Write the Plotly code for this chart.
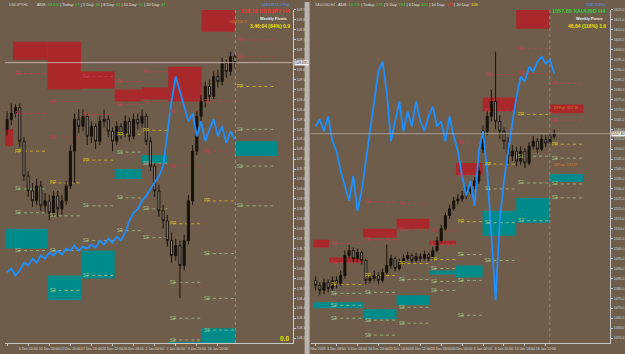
import plotly.graph_objects as go

BG = "#6e5d4b"
FONT = "Liberation Sans"

# ---------------- LEFT PANEL (USDJPY H4) ----------------
L_SYMBOL = "USDJPY,H4"
L_OPEN = [109.30, 109.35, 109.38, 109.41, 109.24, 109.065, 108.99, 108.94, 109.015, 108.915,
          108.94, 108.88, 108.965, 108.90, 108.94, 109.015, 109.19, 109.35, 109.315, 109.365,
          109.265, 109.315, 109.24, 109.34, 109.35, 109.29, 109.24, 109.315, 109.28, 109.34,
          109.265, 109.35, 109.33, 109.365, 109.24, 109.115, 108.99, 108.89, 108.84, 108.74,
          108.665, 108.715, 108.615, 108.74, 108.94, 109.19, 109.365, 109.44, 109.515, 109.465,
          109.565, 109.54, 109.63, 109.59, 109.665]
L_HIGH = [109.39, 109.43, 109.425, 109.43, 109.26, 109.09, 109.03, 109.05, 109.04, 108.98,
          108.97, 108.99, 108.99, 108.97, 109.04, 109.22, 109.38, 109.40, 109.40, 109.38,
          109.34, 109.33, 109.37, 109.40, 109.37, 109.31, 109.34, 109.33, 109.37, 109.36,
          109.38, 109.38, 109.40, 109.38, 109.26, 109.13, 109.02, 108.92, 108.87, 108.78,
          108.75, 108.74, 108.77, 108.97, 109.22, 109.39, 109.47, 109.54, 109.55, 109.59,
          109.60, 109.66, 109.65, 109.69, 109.68]
L_LOW = [109.27, 109.32, 109.36, 109.21, 109.04, 108.96, 108.91, 108.92, 108.89, 108.88,
         108.845, 108.86, 108.86, 108.87, 108.92, 109.00, 109.03, 109.28, 109.29, 109.22,
         109.23, 109.20, 109.22, 109.31, 109.26, 109.19, 109.22, 109.25, 109.26, 109.24,
         109.25, 109.30, 109.31, 109.22, 109.09, 108.96, 108.86, 108.80, 108.71, 108.63,
         108.64, 108.45, 108.59, 108.72, 108.92, 109.17, 109.34, 109.41, 109.44, 109.45,
         109.51, 109.52, 109.56, 109.57, 109.61]
L_CLOSE = [109.35, 109.38, 109.41, 109.24, 109.065, 108.99, 108.94, 109.015, 108.915, 108.94,
           108.88, 108.965, 108.90, 108.94, 109.015, 109.19, 109.35, 109.315, 109.365, 109.265,
           109.315, 109.24, 109.34, 109.35, 109.29, 109.24, 109.315, 109.28, 109.34, 109.265,
           109.35, 109.33, 109.365, 109.24, 109.115, 108.99, 108.89, 108.84, 108.74, 108.665,
           108.715, 108.615, 108.74, 108.94, 109.19, 109.365, 109.44, 109.515, 109.465, 109.565,
           109.54, 109.63, 109.59, 109.665, 109.635]
L_BLUE = [108.58, 108.60, 108.565, 108.59, 108.63, 108.615, 108.65, 108.63, 108.665, 108.65,
          108.68, 108.665, 108.69, 108.67, 108.70, 108.69, 108.715, 108.69, 108.71, 108.70,
          108.72, 108.705, 108.74, 108.72, 108.75, 108.73, 108.76, 108.74, 108.78, 108.84,
          108.88, 108.90, 108.94, 108.965, 109.00, 109.03, 109.065, 109.115, 109.29, 109.44,
          109.565, 109.49, 109.415, 109.34, 109.38, 109.265, 109.34, 109.24, 109.30, 109.35,
          109.265, 109.315, 109.23, 109.29, 109.25]
L_WEEKS = [-0.5, 1.38, 9.58, 17.56, 25.53, 31.86, 38.2, 46.17, 54.14, 64.0]
L_RED_SEG = [0, 1, 2, 3, 4, 5, 6, 7]
L_RED_LO = [109.215, 109.65, 109.50, 109.505, 109.44, 109.45, 109.44, 109.79]
L_RED_HI = [109.30, 109.74, 109.74, 109.59, 109.50, 109.51, 109.615, 109.94]
L_TEAL_SEG = [0, 1, 2, 3, 4, 5, 6, 7, 8]
L_TEAL_LO = [108.70, 108.70, 108.44, 108.55, 109.05, 109.13, 108.205, 108.205, 109.165]
L_TEAL_HI = [108.80, 108.80, 108.565, 108.69, 109.10, 109.17, 108.23, 108.30, 109.24]
LV_NAMES = ["R2", "R1", "PP", "S1", "S2", "S3"]
L_LEVELS = [
    [109.58, 109.38, 109.19, 109.00, 108.88, 108.69],
    [109.44, 109.26, 109.03, 108.865, 108.69, 108.49],
    [109.565, 109.375, 109.145, 108.915, 108.74, 108.565],
    [109.54, 109.425, 109.275, 109.185, 108.955, 108.79],
    [109.59, 109.44, 109.295, 109.13, 108.90, 108.755],
    [109.39, 109.115, 108.825, 108.53, 108.35, 108.24],
    [109.44, 109.19, 108.94, 108.675, 108.45, 108.29],
    [109.75, 109.665, 109.515, 109.30, 109.115, 108.915],
]
L_RANGE = [108.225, 109.90]
L_XRANGE = [-0.5, 67.75]
L_LAST = 109.635
L_TICKVALS = [0, 5, 10, 15, 20, 25, 30, 35, 40, 45, 50]
L_TICKTEXT = ["2 Dec 2019", "5 Dec 04:00", "10 Dec 00:00", "12 Dec 20:00", "17 Dec 16:00",
              "20 Dec 12:00", "26 Dec 08:00", "2 Jan 04:00", "7 Jan 00:00", "9 Jan 20:00",
              "14 Jan 16:00"]

# ---------------- RIGHT PANEL (XAUUSD H4) ----------------
R_SYMBOL = "XAUUSD,H4"
R_OPEN = [1484, 1481.5, 1479, 1483, 1480, 1484, 1482.5, 1486.5, 1496.5, 1499,
          1495, 1498, 1494, 1484, 1485, 1486.5, 1484, 1488, 1491.5, 1495,
          1490, 1493, 1495, 1496.5, 1494, 1496, 1495, 1497, 1495, 1499,
          1504, 1510, 1516.5, 1520, 1524, 1525, 1526.5, 1529, 1531.5, 1534,
          1550, 1559, 1566.5, 1574, 1564, 1559, 1554, 1546.5, 1549, 1544,
          1549, 1543, 1551.5, 1554, 1550, 1555, 1553, 1556.5]
R_HIGH = [1486, 1483, 1485, 1484.5, 1486, 1486, 1489, 1499, 1502, 1500.5,
          1500, 1499, 1495, 1487.5, 1489, 1488, 1490, 1502, 1497, 1496,
          1495, 1497, 1498.5, 1497.5, 1498, 1497.5, 1499, 1498, 1501, 1506,
          1512, 1518, 1522, 1526, 1527.5, 1529, 1531, 1533.5, 1536, 1541,
          1562, 1569.5, 1580, 1599, 1567, 1561, 1556, 1552, 1551, 1551.5,
          1550.5, 1553.5, 1556.5, 1555.5, 1557, 1557, 1558.5, 1560]
R_LOW = [1479, 1476.5, 1477, 1478, 1479, 1480, 1481, 1485, 1495, 1493,
         1493.5, 1492, 1482, 1482.5, 1483.5, 1482, 1483, 1487, 1490, 1488.5,
         1489, 1492, 1494, 1492.5, 1493, 1493.5, 1494, 1493.5, 1494, 1498,
         1503, 1509, 1515, 1519, 1522, 1523.5, 1525, 1527.5, 1530, 1532.5,
         1548, 1557, 1564, 1560, 1555, 1550, 1542.5, 1544, 1541.5, 1542,
         1540.5, 1542, 1550, 1548, 1549, 1551, 1552, 1555]
R_CLOSE = [1481.5, 1479, 1483, 1480, 1484, 1482.5, 1486.5, 1496.5, 1499, 1495,
           1498, 1494, 1484, 1485, 1486.5, 1484, 1488, 1491.5, 1495, 1490,
           1493, 1495, 1496.5, 1494, 1496, 1495, 1497, 1495, 1499, 1504,
           1510, 1516.5, 1520, 1524, 1525, 1526.5, 1529, 1531.5, 1534, 1539,
           1559, 1566.5, 1574, 1564, 1559, 1554, 1546.5, 1549, 1544, 1549,
           1543, 1551.5, 1554, 1550, 1555, 1553, 1556.5, 1557.8]
R_BLUE = [1561.5, 1565, 1559, 1566.5, 1554, 1549, 1539, 1531.5, 1524, 1536.5,
          1519, 1529, 1544, 1559, 1576.5, 1589, 1594, 1579, 1554, 1564,
          1574, 1559, 1569, 1561.5, 1574, 1564, 1559, 1566.5, 1571.5, 1561.5,
          1564, 1554, 1566.5, 1556.5, 1549, 1536.5, 1526.5, 1534, 1521.5, 1549,
          1559, 1539, 1504, 1474, 1514, 1534, 1549, 1564, 1576.5, 1586.5,
          1584, 1591.5, 1589, 1594, 1596.5, 1593, 1595, 1588]
R_WEEKS = [-0.5, 3.28, 11.31, 19.34, 27.14, 33.52, 39.9, 47.93, 55.96, 64.0]
R_RED_SEG = [0, 1, 2, 3, 4, 5, 6, 7, 8]
R_RED_LO = [1500.5, 1493, 1505.5, 1510, 1502, 1537, 1569, 1610.5, 1568]
R_RED_HI = [1504.5, 1495.5, 1510, 1515, 1504, 1543, 1576, 1622.5, 1572.5]
R_TEAL_SEG = [0, 1, 2, 3, 4, 5, 6, 7, 8]
R_TEAL_LO = [1470, 1470, 1464.5, 1471.5, 1487, 1485.5, 1506.5, 1513, 1533.5]
R_TEAL_HI = [1473, 1473, 1469.5, 1476.5, 1489, 1491.5, 1519, 1525.5, 1537.5]
R_LEVELS = [
    [1502.5, 1493, 1482, 1477.5, 1471.5, 1465],
    [1523.5, 1504.5, 1486.5, 1478, 1464, 1456.5],
    [1522.5, 1509.5, 1492.5, 1484.5, 1470.5, 1462.5],
    [1509, 1502, 1494.5, 1490, 1483.5, 1479],
    [1553.5, 1537, 1513.5, 1497, 1484, 1466.5],
    [1587.5, 1569.5, 1542.5, 1530, 1513, 1494],
    [1600.5, 1588, 1567.5, 1546.5, 1533, 1514],
    [1583, 1564.5, 1552.5, 1545.5, 1532.5, 1525.5],
]
R_RANGE = [1452.5, 1620]
R_XRANGE = [-1.21, 70.37]
R_LAST = 1557.8
R_TICKVALS = [0, 5, 10, 15, 20, 25, 30, 35, 40, 45, 50, 55]
R_TICKTEXT = ["28 Nov 2019", "3 Dec 08:00", "6 Dec 04:00", "10 Dec 20:00", "13 Dec 16:00",
              "18 Dec 12:00", "23 Dec 08:00", "30 Dec 04:00", "6 Jan 00:00", "8 Jan 20:00",
              "13 Jan 16:00", "16 Jan 12:00"]

# ---------------- styling ----------------
RED_ZONE = "#a8282c"
TEAL_ZONE = "#008b8b"
LV_COLORS = {"R": "#c2404e", "P": "#d4c21e", "S": "#a6c48a"}
AX_TXT = "#d6d6d6"

fig = go.Figure()
panels = [
    dict(xa="x", ya="y", o=L_OPEN, h=L_HIGH, l=L_LOW, c=L_CLOSE, blue=L_BLUE, weeks=L_WEEKS,
         rs=L_RED_SEG, rl=L_RED_LO, rh=L_RED_HI, ts=L_TEAL_SEG, tl=L_TEAL_LO, th=L_TEAL_HI,
         lv=L_LEVELS, last=L_LAST, lastcol="#d9c0c0", fmt="{:.3f}", dom=[0, 291 / 625]),
    dict(xa="x2", ya="y2", o=R_OPEN, h=R_HIGH, l=R_LOW, c=R_CLOSE, blue=R_BLUE, weeks=R_WEEKS,
         rs=R_RED_SEG, rl=R_RED_LO, rh=R_RED_HI, ts=R_TEAL_SEG, tl=R_TEAL_LO, th=R_TEAL_HI,
         lv=R_LEVELS, last=R_LAST, lastcol="#b0aaa2", fmt="{:.2f}", dom=[309 / 625, 612 / 625]),
]

shapes = []
annots = []
for p in panels:
    xa, ya = p["xa"], p["ya"]
    wk = p["weeks"]
    idx = list(range(len(p["c"])))
    fig.add_trace(go.Candlestick(
        x=idx, open=p["o"], high=p["h"], low=p["l"], close=p["c"], xaxis=xa, yaxis=ya,
        increasing=dict(line=dict(color="#1b130c", width=1), fillcolor="#15100b"),
        decreasing=dict(line=dict(color="#1b130c", width=1), fillcolor="#8e8a86"),
        whiskerwidth=0, showlegend=False, hoverinfo="skip"))
    fig.add_trace(go.Scatter(x=idx, y=p["blue"], xaxis=xa, yaxis=ya, mode="lines",
                             line=dict(color="#1e90ff", width=1.8), showlegend=False,
                             hoverinfo="skip"))
    for s, lo, hi in zip(p["rs"], p["rl"], p["rh"]):
        shapes.append(dict(type="rect", xref=xa, yref=ya, x0=wk[s], x1=wk[s + 1], y0=lo, y1=hi,
                           fillcolor=RED_ZONE, line_width=0, layer="below"))
    for s, lo, hi in zip(p["ts"], p["tl"], p["th"]):
        shapes.append(dict(type="rect", xref=xa, yref=ya, x0=wk[s], x1=wk[s + 1], y0=lo, y1=hi,
                           fillcolor=TEAL_ZONE, line_width=0, layer="below"))
    for k, row in enumerate(p["lv"]):
        s = k + 1
        for name, val in zip(LV_NAMES, row):
            col = LV_COLORS[name[0]]
            shapes.append(dict(type="line", xref=xa, yref=ya, x0=wk[s] + 1.2, x1=wk[s + 1] - 0.2,
                               y0=val, y1=val, line=dict(color=col, width=0.8, dash="dot"),
                               layer="below"))
            annots.append(dict(xref=xa, yref=ya, x=wk[s], y=val, text=name, showarrow=False,
                               xanchor="left", yanchor="middle",
                               font=dict(size=4.5, color=col, family=FONT)))
    shapes.append(dict(type="line", xref=xa, yref="paper",
                       x0=wk[-2], x1=wk[-2], y0=11 / 354, y1=1 - 8 / 354,
                       line=dict(color="#9a8f82", width=1, dash="dot")))
    shapes.append(dict(type="line", xref=xa + " domain", yref=ya, x0=0, x1=1,
                       y0=p["last"], y1=p["last"], line=dict(color=p["lastcol"], width=0.8)))
    annots.append(dict(xref="paper", yref=ya, x=p["dom"][1] + 0.002, y=p["last"],
                       text=p["fmt"].format(p["last"]), showarrow=False, xanchor="left",
                       bgcolor="#f4f4f4", font=dict(size=3.5, color="#111", family=FONT),
                       borderpad=0))

# panel separator
shapes.append(dict(type="rect", xref="paper", yref="paper", x0=303 / 625, x1=308 / 625, y0=0, y1=1,
                   fillcolor="#b9b4ae", line_width=0))

def pa(xpx, ypx, text, size, color, anchor="left", bold=False):
    t = "<b>" + text + "</b>" if bold else text
    annots.append(dict(xref="paper", yref="paper", x=xpx / 625, y=1 - ypx / 354, text=t,
                       showarrow=False, xanchor=anchor, yanchor="middle",
                       font=dict(size=size, color=color, family=FONT)))

G = "#33d133"
hdr_l = ("ADR: <span style='color:%s'>33.6%%</span> | Today: <span style='color:%s'>17</span> | "
         "5 Day: <span style='color:%s'>34</span> | 8 Day: <span style='color:%s'>33</span> | "
         "10 Day: <span style='color:%s'>51</span> | 20 Day: <span style='color:%s'>47</span>") % (G, G, G, G, G, G)
hdr_r = ("ADR: <span style='color:%s'>16.5%%</span> | Today: <span style='color:%s'>175</span> | "
         "5 Day: <span style='color:%s'>194</span> | 6 Day: <span style='color:%s'>320</span> | "
         "10 Day: <span style='color:#ff3030'>378</span> | 20 Day: <span style='color:#e8e000'>108</span>") % (G, G, G, G)
pa(2, 3, L_SYMBOL, 3.5, "#d0d0d0")
pa(30, 3, hdr_l, 4, "#e0e0e0")
pa(311, 3, R_SYMBOL, 3.5, "#d0d0d0")
pa(335, 3, hdr_r, 4, "#e0e0e0")

pa(289, 3, "108.639 (1.0 Pts)", 3.5, "#4aa0ff", "right")
pa(290, 9, "116.16 USDJPY H4", 5.5, "#ff2a2a", "right", True)
pa(288, 17, "Weekly Pivots", 4, "#f0f0f0", "right", True)
pa(290, 24, "3.46:04 (84%) 0.9", 5, "#f0e000", "right", True)
pa(247, 20, "LW Hi 109.73", 3, "#e08020", "right")
pa(289, 338, "0.0", 6.5, "#f0e000", "right", True)

pa(609, 3, "2582 (1.6%)", 3.5, "#4aa0ff", "right")
pa(610, 9, "1557.80 XAUUSD H4", 5.5, "#33d133", "right", True)
pa(608, 17, "Weekly Pivots", 4, "#f0f0f0", "right", True)
pa(610, 24, "46.84 (116%) 1.6", 5, "#f0e000", "right", True)
pa(553, 107, "LW High: 1611.34", 3, "#e08020")
pa(553, 164, "LW Low: 1516.87", 3, "#e08020")

ydom = [11 / 354, 1 - 8 / 354]
axis_common = dict(showgrid=False, zeroline=False, color=AX_TXT,
                   tickfont=dict(size=3.5, color=AX_TXT, family=FONT))
xcommon = dict(rangeslider=dict(visible=False), showline=True, linecolor="#c8c8c8",
               ticks="outside", ticklen=2, tickcolor="#c8c8c8", tickangle=0, **axis_common)
ycommon = dict(side="right", ticks="outside", ticklen=2, tickcolor="#c8c8c8",
               showline=True, linecolor="#c8c8c8", **axis_common)
fig.update_layout(
    width=625, height=354, margin=dict(l=0, r=0, t=0, b=0),
    paper_bgcolor=BG, plot_bgcolor=BG, showlegend=False,
    shapes=shapes, annotations=annots,
    xaxis=dict(domain=panels[0]["dom"], range=L_XRANGE, anchor="y",
               tickvals=L_TICKVALS, ticktext=L_TICKTEXT, **xcommon),
    xaxis2=dict(domain=panels[1]["dom"], range=R_XRANGE, anchor="y2",
                tickvals=R_TICKVALS, ticktext=R_TICKTEXT, **xcommon),
    yaxis=dict(domain=ydom, range=L_RANGE, anchor="x", dtick=0.05, tick0=108.25,
               tickformat=".3f", **ycommon),
    yaxis2=dict(domain=ydom, range=R_RANGE, anchor="x2", dtick=5, tick0=1455,
                tickformat=".1f", **ycommon),
)
fig.write_html("out.html")
